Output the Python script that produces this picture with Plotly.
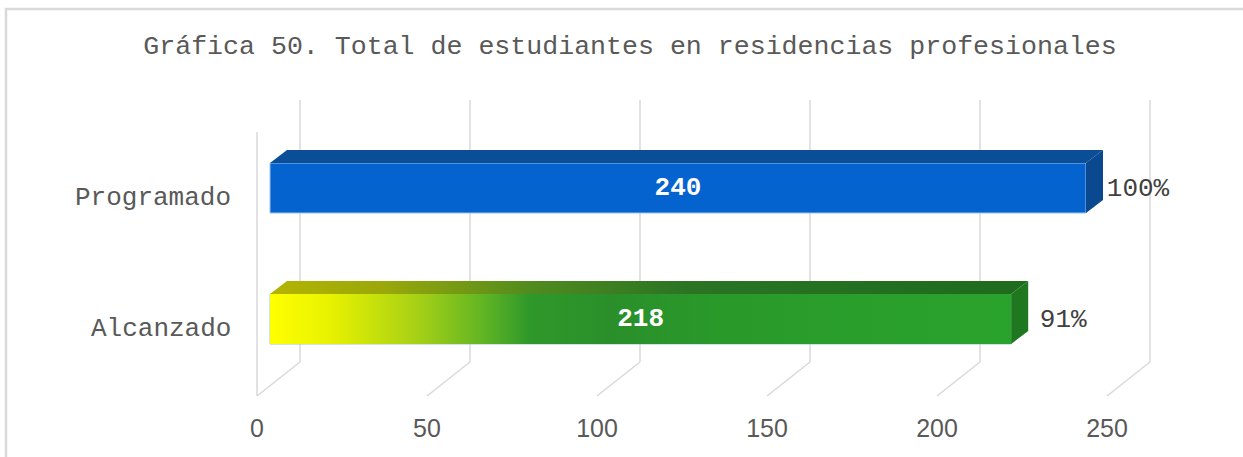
import plotly.graph_objects as go

# ---- data -------------------------------------------------------------
categories = ["Programado", "Alcanzado"]
values = [240, 218]
tick_vals = [0, 50, 100, 150, 200, 250]
title_text = "Gráfica 50. Total de estudiantes en residencias profesionales"

# ---- page geometry (pixels) ------------------------------------------
W, H = 1243, 457
PX_PER_UNIT = 3.4          # horizontal pixels per value unit
BAR_X0_PX = 270            # value 0 on the bars' front plane
ROW_PX = 131               # vertical distance between the two rows
ROW0_PX = 319              # centre of the lowest row


def xu(px):
    """horizontal pixel offset -> value units"""
    return px / PX_PER_UNIT


def ypx(px):
    """page pixel row -> y axis units"""
    return (ROW0_PX - px) / ROW_PX


x_range = [-xu(BAR_X0_PX), xu(W - BAR_X0_PX)]
y_range = [ypx(H), ypx(0)]

# pseudo-3D depth offsets
BACK_DX = xu(30)           # back wall relative to bar plane
FRONT_DX = xu(-13)         # front floor edge relative to bar plane
GRID_TOP = ypx(100)
GRID_CORNER = ypx(362)
FLOOR_FRONT = ypx(396)
LEFT_TOP = ypx(132)
BAR_W = 50 / ROW_PX
TOP_DX = xu(17)
TOP_DY = 13 / ROW_PX

GRID_COLOR = "#d9d9d9"
TEXT_GREY = "#595959"
MONO = "Liberation Mono"

n = len(categories)
rows = [n - 1 - i for i in range(n)]

front_colors = ["#0563cf", "#27a02a"]
top_colors = ["#0b4e98", None]
side_colors = ["#0a4890", "#1f781f"]

fig = go.Figure()

# front faces of the bars
fig.add_trace(go.Bar(
    x=values, y=rows, orientation="h", width=BAR_W,
    marker=dict(color=front_colors, line=dict(color="#9cc2ee", width=1)),
    hoverinfo="skip", showlegend=False,
))

for i, (v, r) in enumerate(zip(values, rows)):
    hw = BAR_W / 2
    # top face
    top_x = [0, TOP_DX, v + TOP_DX, v, 0]
    top_y = [r + hw, r + hw + TOP_DY, r + hw + TOP_DY, r + hw, r + hw]
    # right side face
    side_x = [v, v + TOP_DX, v + TOP_DX, v, v]
    side_y = [r + hw, r + hw + TOP_DY, r - hw + TOP_DY, r - hw, r + hw]
    if top_colors[i]:
        fig.add_trace(go.Scatter(
            x=top_x, y=top_y, mode="lines", fill="toself",
            fillcolor=top_colors[i], line=dict(width=0),
            hoverinfo="skip", showlegend=False))
    else:
        fig.add_trace(go.Scatter(
            x=top_x, y=top_y, mode="lines", fill="toself",
            fillgradient=dict(type="horizontal", colorscale=[
                [0.0, "#b4b400"], [0.15, "#9aa80a"], [0.35, "#4f8a1e"],
                [0.55, "#2a7424"], [1.0, "#1e6b1e"]]),
            line=dict(width=0), hoverinfo="skip", showlegend=False))
        # yellow-to-green front face
        fig.add_trace(go.Scatter(
            x=[0, v, v, 0, 0], y=[r - hw, r - hw, r + hw, r + hw, r - hw],
            mode="lines", fill="toself",
            fillgradient=dict(type="horizontal", colorscale=[
                [0.0, "#ffff00"], [0.08, "#e8f200"], [0.2, "#a6d016"],
                [0.29, "#5fb424"], [0.35, "#2f982a"], [0.46, "#2a8f2a"],
                [0.6, "#29992a"], [1.0, "#2aa32c"]]),
            line=dict(width=0), hoverinfo="skip", showlegend=False))
    fig.add_trace(go.Scatter(
        x=side_x, y=side_y, mode="lines", fill="toself",
        fillcolor=side_colors[i], line=dict(width=0),
        hoverinfo="skip", showlegend=False))

# value labels inside the bars
fig.add_trace(go.Scatter(
    x=[v / 2 for v in values], y=rows, mode="text",
    text=[str(v) for v in values],
    textfont=dict(family=MONO, size=26, color="white", weight="bold"),
    hoverinfo="skip", showlegend=False))

# percentage of the programmed total
pct = [f"{round(v / values[0] * 100)}%" for v in values]
fig.add_trace(go.Scatter(
    x=[v + xu(52) for v in values], y=[r - 1 / ROW_PX for r in rows],
    mode="text", text=pct,
    textfont=dict(family=MONO, size=26, color="#404040"),
    hoverinfo="skip", showlegend=False))

# axis for the tick labels, on the front edge of the floor
fig.add_trace(go.Scatter(x=[tick_vals[0]], y=[rows[0]], xaxis="x2",
                         mode="markers", marker=dict(opacity=0),
                         hoverinfo="skip", showlegend=False))

# back wall gridlines, folding onto the floor
shapes = []
for t in tick_vals:
    shapes.append(dict(type="line", xref="x", yref="y", layer="below",
                       x0=t + BACK_DX, x1=t + BACK_DX, y0=GRID_TOP, y1=GRID_CORNER,
                       line=dict(color=GRID_COLOR, width=1.5)))
    shapes.append(dict(type="line", xref="x", yref="y", layer="below",
                       x0=t + BACK_DX, x1=t + FRONT_DX, y0=GRID_CORNER, y1=FLOOR_FRONT,
                       line=dict(color=GRID_COLOR, width=1.5)))
shapes.append(dict(type="line", xref="x", yref="y", layer="below",
                   x0=tick_vals[0] + FRONT_DX, x1=tick_vals[0] + FRONT_DX,
                   y0=LEFT_TOP, y1=FLOOR_FRONT,
                   line=dict(color=GRID_COLOR, width=1.5)))
# chart frame: top and left edges
shapes.append(dict(type="path", xref="paper", yref="paper",
                   path=f"M {6 / W} 0 L {6 / W} {1 - 9 / H} L 1 {1 - 9 / H}",
                   line=dict(color="#d9d9d9", width=2.5)))

# category labels
annotations = [dict(x=233 / W, xref="paper", y=r - 10 / ROW_PX, yref="y",
                    text=c, showarrow=False, xanchor="right", yanchor="middle",
                    font=dict(family=MONO, size=26, color=TEXT_GREY))
               for c, r in zip(categories, rows)]

fig.update_layout(
    width=W, height=H,
    margin=dict(l=0, r=0, t=0, b=0),
    paper_bgcolor="white", plot_bgcolor="white",
    title=dict(text=title_text, x=630 / W, xanchor="center",
               y=1 - 45 / H, yanchor="middle",
               font=dict(family=MONO, size=26.6, color=TEXT_GREY)),
    xaxis=dict(range=x_range, visible=False, fixedrange=True),
    xaxis2=dict(range=[x_range[0] - FRONT_DX, x_range[1] - FRONT_DX],
                overlaying="x", anchor="free", position=(H - 411) / H,
                side="bottom", tickvals=tick_vals,
                ticktext=[str(t) for t in tick_vals],
                tickfont=dict(family="Liberation Sans", size=25, color=TEXT_GREY),
                showgrid=False, zeroline=False, showline=False, ticks="",
                fixedrange=True),
    yaxis=dict(range=y_range, visible=False, fixedrange=True),
    shapes=shapes, annotations=annotations,
    showlegend=False,
)

fig.write_html(
    "out.html",
    config={"displayModeBar": False},
    post_script="document.documentElement.style.overflow='hidden';"
                "document.body.style.overflow='hidden';",
)
